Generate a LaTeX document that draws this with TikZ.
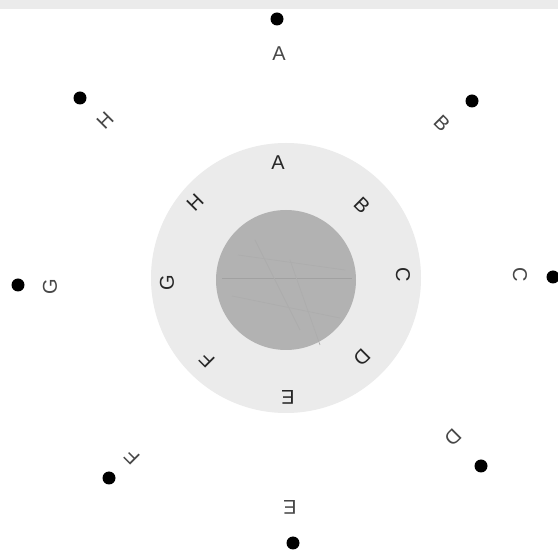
\documentclass[tikz,border=0pt]{standalone}
\usepackage{fontspec}
\setmainfont{Liberation Sans}
\begin{document}
\begin{tikzpicture}[x=1pt,y=-1pt,
  dot/.style={circle,fill=black,inner sep=0pt,minimum size=13pt},
  outerlbl/.style={text=black!72,font=\fontsize{20}{21}\selectfont,inner sep=0pt},
  innerlbl/.style={text=black!85,font=\fontsize{20}{21}\selectfont,inner sep=0pt}]
\useasboundingbox (0,0) rectangle (558,553);
\fill[white] (0,0) rectangle (558,553);
\fill[black!8] (0,0) rectangle (558,9);
% rings
\fill[black!8] (286,278) circle (135);
\fill[black!30] (286,280) circle (70);
\draw[black!37,line width=1pt] (222,279) -- (352,279);
\draw[black!32,line width=0.7pt] (238,255) -- (345,270) (232,296) -- (340,318) (290,260) -- (320,345) (255,240) -- (300,330);
% outer dots
\node[dot] (dA) at (277,19) {};
\node[dot] (dB) at (472,101) {};
\node[dot] (dC) at (553,277) {};
\node[dot] (dD) at (481,466) {};
\node[dot] (dE) at (293,543) {};
\node[dot] (dF) at (109,478) {};
\node[dot] (dG) at (18,285) {};
\node[dot] (dH) at (80,98) {};
% outer labels
\node[outerlbl] (oA) at (279,54) {A};
\node[outerlbl,rotate=-45] (oB) at (442,123) {B};
\node[outerlbl,rotate=-90] (oC) at (520,275) {C};
\node[outerlbl,rotate=-135] (oD) at (453,437) {D};
\node[outerlbl,rotate=180] (oE) at (290,507) {E};
\node[outerlbl,rotate=135] (oF) at (132,457) {F};
\node[outerlbl,rotate=90] (oG) at (50,287) {G};
\node[outerlbl,rotate=45] (oH) at (105,121) {H};
% inner labels
\node[innerlbl] (iA) at (278,163) {A};
\node[innerlbl,rotate=-45] (iB) at (362,205) {B};
\node[innerlbl,rotate=-90] (iC) at (403,275) {C};
\node[innerlbl,rotate=-135] (iD) at (362,357) {D};
\node[innerlbl,rotate=180] (iE) at (288,397) {E};
\node[innerlbl,rotate=135] (iF) at (207,360) {F};
\node[innerlbl,rotate=90] (iG) at (167,283) {G};
\node[innerlbl,rotate=45] (iH) at (195,203) {H};
\end{tikzpicture}
\end{document}
